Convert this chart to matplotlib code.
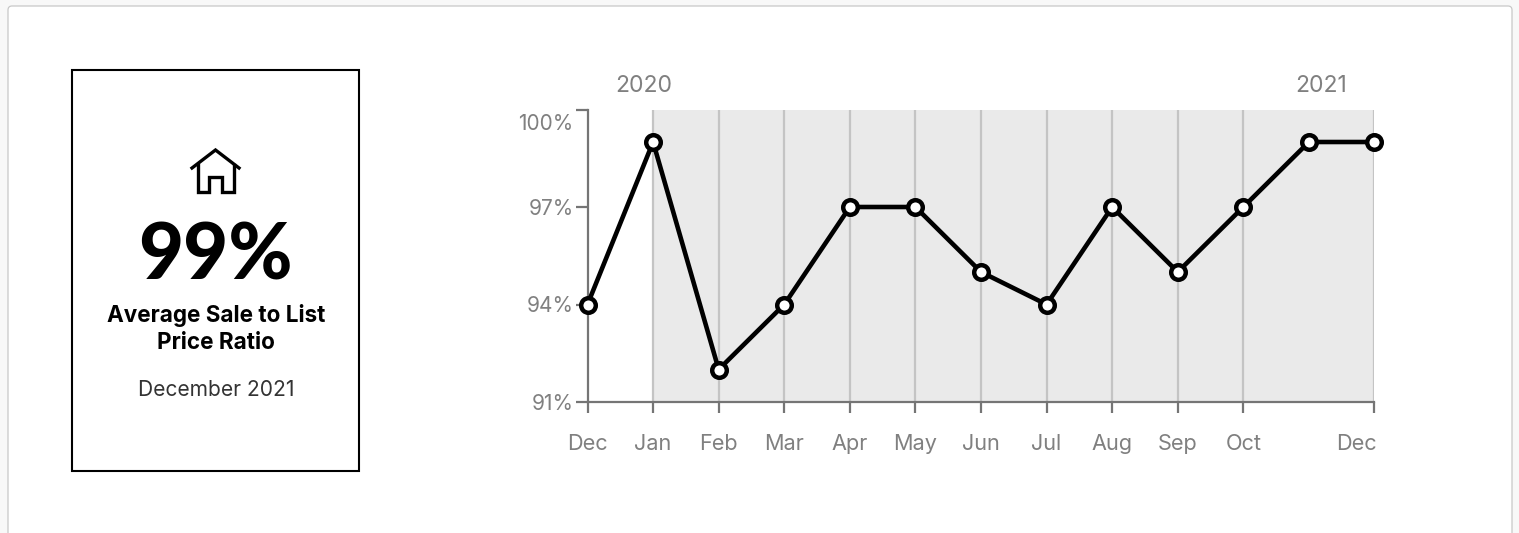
import matplotlib
matplotlib.use('Agg')
import matplotlib.pyplot as plt
from matplotlib.patches import FancyBboxPatch, Rectangle
from matplotlib.transforms import ScaledTranslation

months = ['Dec', 'Jan', 'Feb', 'Mar', 'Apr', 'May', 'Jun', 'Jul', 'Aug', 'Sep', 'Oct', '', 'Dec']
ratio = [94, 99, 92, 94, 97, 97, 95, 94, 97, 95, 97, 99, 99]
y_ticks = [91, 94, 97, 100]
y_labels = ['91%', '94%', '97%', '100%']
gridline_idx = [1, 2, 3, 4, 5, 6, 7, 8, 9, 10, 12]

W, H = 1519, 533
GREY = '#757575'
LABEL_GREY = '#808080'
plt.rcParams['font.family'] = ['Inter', 'DejaVu Sans']

fig = plt.figure(figsize=(W / 100, H / 100), dpi=100, facecolor='#f8f8f8')

# page layer in pixel coordinates
bg = fig.add_axes([0, 0, 1, 1])
bg.set_xlim(0, W)
bg.set_ylim(H, 0)
bg.axis('off')
bg.add_patch(FancyBboxPatch((8, 6), 1504, 560, boxstyle='round,pad=0,rounding_size=4',
                            fc='white', ec='#c8c8c8', lw=0.9))
bg.add_patch(Rectangle((72, 70), 287, 401, fc='white', ec='black', lw=1.5))

# house icon
bg.plot([192, 215.5, 239], [168, 150, 168], color='black', lw=2.4, solid_joinstyle='miter')
bg.plot([197.5, 197.5, 209, 209, 222, 222, 234, 234],
        [165, 191.5, 191.5, 177, 177, 191.5, 191.5, 165],
        color='black', lw=2.4, solid_joinstyle='miter')

bg.text(215.5, 257, '99%', fontsize=56, fontweight='black', family=['Lato', 'DejaVu Sans'],
        ha='center', va='center', color='black')
bg.text(216, 315.5, 'Average Sale to List', fontsize=16.2, fontweight='bold', ha='center', va='center', color='black')
bg.text(216, 343, 'Price Ratio', fontsize=16.2, fontweight='bold', ha='center', va='center', color='black')
bg.text(216, 390, 'December 2021', fontsize=15.1, ha='center', va='center', color='#333333')

# chart
x_left, x_right, y_top, y_bottom = 587.5, 1374.5, 109.5, 402
ax = fig.add_axes([x_left / W, 1 - y_bottom / H, (x_right - x_left) / W, (y_bottom - y_top) / H])
ax.patch.set_alpha(0)
xs = list(range(len(ratio)))
ax.set_xlim(0, len(ratio) - 1)
ax.set_ylim(91, 100)

ax.axvspan(1, 12, color='#eaeaea', lw=0, zorder=0)
for i in gridline_idx:
    ax.axvline(xs[i], color='#c4c4c4', lw=1.6, zorder=1)

ax.plot(xs, ratio, color='black', lw=3.3, zorder=3, clip_on=False,
        marker='o', ms=10.5, mfc='white', mec='black', mew=3.2)

for side in ['top', 'right']:
    ax.spines[side].set_visible(False)
for side in ['left', 'bottom']:
    ax.spines[side].set_color(GREY)
    ax.spines[side].set_linewidth(1.6)
    ax.spines[side].set_zorder(2)

ax.set_yticks(y_ticks)
ax.set_yticklabels(y_labels)
ax.set_xticks([0] + gridline_idx)
ax.set_xticklabels([months[i] for i in [0] + gridline_idx])
ax.tick_params(axis='y', length=8.5, width=1.6, color=GREY, labelcolor=LABEL_GREY, labelsize=15, pad=1.5)
ax.tick_params(axis='x', length=8, width=1.6, color=GREY, labelcolor=LABEL_GREY, labelsize=15.6, pad=15)

# 100% sits below its tick, last Dec ends at the axis end
top_label = ax.get_yticklabels()[-1]
top_label.set_transform(top_label.get_transform() + ScaledTranslation(0, -3 / 72, fig.dpi_scale_trans))
top_label.set_va('top')
last_label = ax.get_xticklabels()[-1]
last_label.set_ha('right')
last_label.set_transform(last_label.get_transform() + ScaledTranslation(1.5 / 72, 0, fig.dpi_scale_trans))

bg.text(644, 85.5, '2020', fontsize=16.5, color=LABEL_GREY, ha='center', va='center')
bg.text(1321, 85.5, '2021', fontsize=16.5, color=LABEL_GREY, ha='center', va='center')

fig.savefig('out.png', dpi=100, facecolor=fig.get_facecolor())
